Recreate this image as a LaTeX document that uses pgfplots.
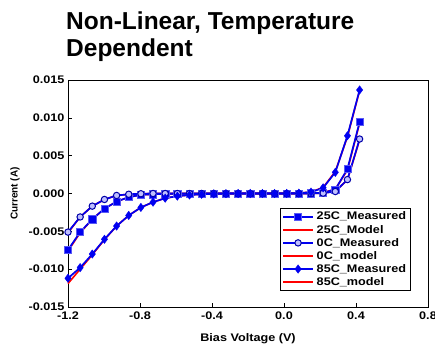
\documentclass[border=0pt]{standalone}
\usepackage{fontspec}
\setmainfont{Liberation Sans}
\newfontfamily\sfs{Liberation Sans}[FakeStretch=1.15]
\usepackage{pgfplots}
\pgfplotsset{compat=1.18}
\definecolor{mblue}{RGB}{0,0,240}
\definecolor{mred}{RGB}{255,0,0}
\begin{document}
\begin{tikzpicture}
\useasboundingbox (0,0) rectangle (435bp,345bp);
\node[anchor=base west, inner sep=0, font=\fontsize{24.5bp}{28bp}\selectfont\bfseries] at (66bp,315.7bp) {Non-Linear, Temperature};
\node[anchor=base west, inner sep=0, font=\fontsize{24.5bp}{28bp}\selectfont\bfseries] at (66bp,288.3bp) {Dependent};
\begin{axis}[
  at={(68bp,38bp)}, anchor=south west,
  scale only axis, width=360bp, height=227bp,
  xmin=-1.2, xmax=0.8, ymin=-0.015, ymax=0.015,
  xtick={-1.2,-0.8,-0.4,0,0.4,0.8},
  xticklabels={-1.2,-0.8,-0.4,0.0,0.4,0.8},
  ytick={-0.015,-0.01,-0.005,0,0.005,0.01,0.015},
  yticklabels={-0.015,-0.010,-0.005,0.000,0.005,0.010,0.015},
  scaled y ticks=false,
  tick pos=left, tick align=inside, major tick length=4bp,
  tick style={black, line width=0.6bp},
  axis line style={line width=0.8bp},
  ticklabel style={font=\fontsize{11bp}{13bp}\sfs\bfseries},
  xticklabel style={yshift=-1.5bp},
  xlabel={Bias Voltage (V)},
  xlabel style={at={(axis description cs:0.5,-0.152)}, anchor=base, font=\fontsize{11bp}{13bp}\sfs\bfseries},
  ylabel={Current (A)},
  ylabel style={at={(axis description cs:-0.147,0.5)}, anchor=center, font=\fontsize{10bp}{12bp}\selectfont\bfseries},
  clip=false,
  legend cell align=left,
  legend style={at={(rel axis cs:0.589,0.436)}, anchor=north west,
    inner sep=2bp, row sep=0pt, column sep=1bp,
    font=\fontsize{11bp}{13bp}\sfs\bfseries, nodes={inner sep=1.8bp}},
  legend image code/.code={\draw[mark repeat=2,mark phase=2,#1] plot coordinates {(0bp,0bp) (15bp,0bp) (30bp,0bp)};},
  meas25/.style={color=mblue, draw=mblue, line width=1.7bp, mark=square*, mark size=3.6bp, mark options={fill=mblue, draw=mblue!65!white, line width=0.6bp, solid}},
  meas0/.style={color=mblue, draw=mblue, line width=1.7bp, mark=*, mark size=3.2bp, mark options={fill=blue!25!white, draw=mblue!70!black, line width=1bp, solid}},
  meas85/.style={color=mblue, draw=mblue, line width=1.7bp, mark=diamond*, mark size=4.2bp, mark options={fill=mblue, draw=mblue, line width=0.4bp, solid}},
  model/.style={color=mred, draw=mred, line width=1.6bp, no marks},
]
% models (drawn under)
\addplot[model, forget plot] coordinates {(-1.2,-0.0076) (-1.1325,-0.0052) (-1.065,-0.0034) (-0.9975,-0.0020) (-0.93,-0.00107) (-0.8625,-0.00048) (-0.795,-0.00018) (-0.7275,-0.0001) (-0.66,-0.00005) (-0.5925,-0.00003) (-0.525,-0.00002) (-0.4575,-0.00001) (-0.39,0) (-0.3225,0) (-0.255,0) (-0.1875,0) (-0.12,0) (-0.0525,0) (0.015,0) (0.0825,0.00001) (0.15,0.00003) (0.2175,0.00012) (0.285,0.00058) (0.3525,0.0031) (0.42,0.0093)};
\addplot[model, forget plot] coordinates {(-1.2,-0.0052) (-1.1325,-0.0031) (-1.065,-0.00167) (-0.9975,-0.00079) (-0.93,-0.00026) (-0.8625,-0.0001) (-0.795,-0.00003) (-0.7275,0) (-0.66,0) (-0.5925,0) (-0.525,0) (-0.4575,0) (-0.39,0) (-0.3225,0) (-0.255,0) (-0.1875,0) (-0.12,0) (-0.0525,0) (0.015,0) (0.0825,0) (0.15,0) (0.2175,0.00006) (0.285,0.0003) (0.3525,0.0018) (0.42,0.0071)};
\addplot[model, forget plot] coordinates {(-1.2,-0.0119) (-1.1325,-0.0100) (-1.065,-0.0081) (-0.9975,-0.0061) (-0.93,-0.0043) (-0.8625,-0.0029) (-0.795,-0.00184) (-0.7275,-0.00114) (-0.66,-0.00062) (-0.5925,-0.00035) (-0.525,-0.0002) (-0.4575,-0.0001) (-0.39,-0.00005) (-0.3225,-0.00002) (-0.255,0) (-0.1875,0) (-0.12,0) (-0.0525,0) (0.015,0.00001) (0.0825,0.00005) (0.15,0.0002) (0.2175,0.0008) (0.285,0.0029) (0.3525,0.0075) (0.42,0.0136)};
% measured
\addplot[meas25, forget plot] coordinates {(-1.2,-0.00745) (-1.1325,-0.0051) (-1.065,-0.0034) (-0.9975,-0.0020) (-0.93,-0.00107) (-0.8625,-0.00048) (-0.795,-0.00018) (-0.7275,-0.0001) (-0.66,-0.00005) (-0.5925,-0.00003) (-0.525,-0.00002) (-0.4575,-0.00001) (-0.39,0) (-0.3225,0) (-0.255,0) (-0.1875,0) (-0.12,0) (-0.0525,0) (0.015,0) (0.0825,0.00001) (0.15,0.00003) (0.2175,0.0001) (0.285,0.00053) (0.3525,0.00325) (0.42,0.00943)};
\addplot[meas0, forget plot] coordinates {(-1.2,-0.0051) (-1.1325,-0.0031) (-1.065,-0.00167) (-0.9975,-0.00079) (-0.93,-0.00026) (-0.8625,-0.0001) (-0.795,-0.00003) (-0.7275,0) (-0.66,0) (-0.5925,0) (-0.525,0) (-0.4575,0) (-0.39,0) (-0.3225,0) (-0.255,0) (-0.1875,0) (-0.12,0) (-0.0525,0) (0.015,0) (0.0825,0) (0.15,0) (0.2175,0.00005) (0.285,0.00026) (0.3525,0.00184) (0.42,0.0072)};
\addplot[meas85, forget plot] coordinates {(-1.2,-0.0112) (-1.1325,-0.0098) (-1.065,-0.0080) (-0.9975,-0.00605) (-0.93,-0.0043) (-0.8625,-0.0029) (-0.795,-0.00184) (-0.7275,-0.00114) (-0.66,-0.00062) (-0.5925,-0.00035) (-0.525,-0.0002) (-0.4575,-0.0001) (-0.39,-0.00005) (-0.3225,-0.00002) (-0.255,0) (-0.1875,0) (-0.12,0) (-0.0525,0) (0.015,0.00001) (0.0825,0.00005) (0.15,0.00018) (0.2175,0.00075) (0.285,0.0028) (0.3525,0.00763) (0.42,0.01368)};
\addlegendimage{meas25}
\addlegendentry{25C\_Measured}
\addlegendimage{model}
\addlegendentry{25C\_Model}
\addlegendimage{meas0}
\addlegendentry{0C\_Measured}
\addlegendimage{model}
\addlegendentry{0C\_model}
\addlegendimage{meas85}
\addlegendentry{85C\_Measured}
\addlegendimage{model}
\addlegendentry{85C\_model}
\end{axis}
\end{tikzpicture}
\end{document}
